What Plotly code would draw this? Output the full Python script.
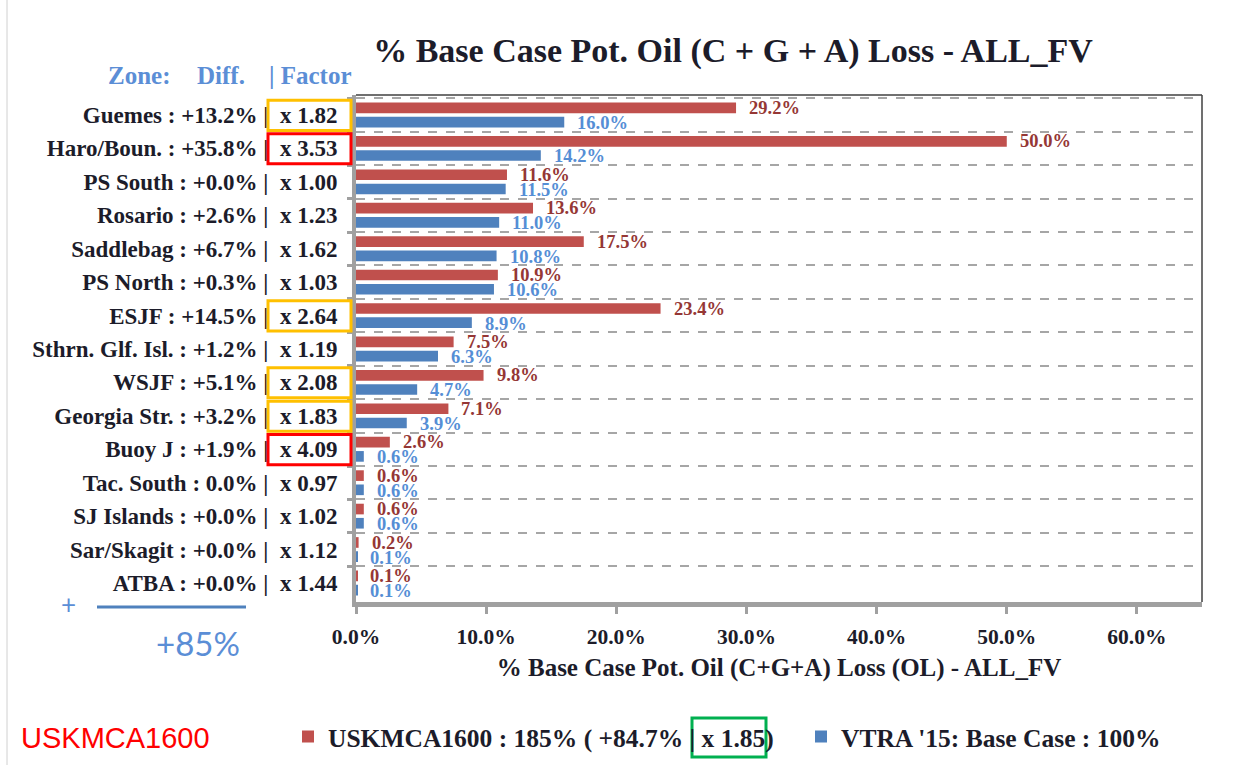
import plotly.graph_objects as go

# Zone data
zones = ["Guemes", "Haro/Boun.", "PS South", "Rosario", "Saddlebag", "PS North", "ESJF",
         "Sthrn. Glf. Isl.", "WSJF", "Georgia Str.", "Buoy J", "Tac. South", "SJ Islands",
         "Sar/Skagit", "ATBA"]
diffs = ["+13.2%", "+35.8%", "+0.0%", "+2.6%", "+6.7%", "+0.3%", "+14.5%", "+1.2%", "+5.1%",
         "+3.2%", "+1.9%", "0.0%", "+0.0%", "+0.0%", "+0.0%"]
factors = [1.82, 3.53, 1.00, 1.23, 1.62, 1.03, 2.64, 1.19, 2.08, 1.83, 4.09, 0.97, 1.02, 1.12, 1.44]
uskmca = [29.2, 50.0, 11.6, 13.6, 17.5, 10.9, 23.4, 7.5, 9.8, 7.1, 2.6, 0.6, 0.6, 0.2, 0.1]
vtra = [16.0, 14.2, 11.5, 11.0, 10.8, 10.6, 8.9, 6.3, 4.7, 3.9, 0.6, 0.6, 0.6, 0.1, 0.1]
x_ticks = [0, 10, 20, 30, 40, 50, 60]

name_case = "USKMCA1600 : 185% ( +84.7% | x 1.85)"
name_base = "VTRA '15: Base Case : 100%"

# Plot-area geometry (pixels) and helpers to convert to paper coordinates
FW, FH = 1249, 765
L, R, T, B = 356, 1202, 95, 602
W, H = R - L, B - T


def px_x(p):
    return (p - L) / W


def px_y(p):
    return (B - p) / H


SERIF = "Liberation Serif"
DARK = "#1c1c2a"
RED_BAR, BLUE_BAR = "#C0504D", "#4F81BD"
RED_TXT, BLUE_TXT = "#953735", "#558ED5"
HEAD_BLUE = "#5B8ED6"

cats = [f"{z} : {d} |\u00a0\u00a0x {f:.2f}" for z, d, f in zip(zones, diffs, factors)]

fig = go.Figure()
fig.add_trace(go.Bar(y=cats, x=uskmca, orientation="h", name=name_case,
                     marker=dict(color=RED_BAR, line=dict(width=0))))
fig.add_trace(go.Bar(y=cats, x=vtra, orientation="h", name=name_base,
                     marker=dict(color=BLUE_BAR, line=dict(width=0))))

annotations = []
# value labels next to the bars
for c, v in zip(cats, uskmca):
    annotations.append(dict(x=v, y=c, xref="x", yref="y", text=f"{v:.1f}%", showarrow=False,
                            xanchor="left", yanchor="middle", xshift=11, yshift=7,
                            font=dict(family=SERIF, size=18.5, color=RED_TXT, weight="bold")))
for c, v in zip(cats, vtra):
    annotations.append(dict(x=v, y=c, xref="x", yref="y", text=f"{v:.1f}%", showarrow=False,
                            xanchor="left", yanchor="middle", xshift=11, yshift=-8,
                            font=dict(family=SERIF, size=18.5, color=BLUE_TXT, weight="bold")))

# column header above the zone labels
for txt, xc in [("Zone:", 139), ("Diff.", 221), ("| Factor", 310)]:
    annotations.append(dict(x=px_x(xc), y=px_y(75), xref="paper", yref="paper", text=txt,
                            showarrow=False, xanchor="center", yanchor="middle",
                            font=dict(family=SERIF, size=25, color=HEAD_BLUE, weight="bold")))

# bottom-left summary
annotations.append(dict(x=px_x(68), y=px_y(604), xref="paper", yref="paper", text="+",
                        showarrow=False, xanchor="center", yanchor="middle",
                        font=dict(family="Lato", size=26, color=HEAD_BLUE)))
annotations.append(dict(x=px_x(198), y=px_y(643), xref="paper", yref="paper", text="+85%",
                        showarrow=False, xanchor="center", yanchor="middle",
                        font=dict(family="Lato", size=33, color=HEAD_BLUE)))
annotations.append(dict(x=px_x(116), y=px_y(738), xref="paper", yref="paper", text="USKMCA1600",
                        showarrow=False, xanchor="center", yanchor="middle",
                        font=dict(family="Liberation Sans", size=29, color="#FF0000")))

shapes = []
# highlight boxes around the larger factors
for i, f in enumerate(factors):
    if f >= 3:
        col = "#FF0000"
    elif f >= 1.8:
        col = "#FFC000"
    else:
        continue
    shapes.append(dict(type="rect", xref="paper", yref="y", x0=px_x(268), x1=px_x(351),
                       y0=i - 0.44, y1=i + 0.46, line=dict(color=col, width=3)))
# thin frame on top/right of plot area
shapes.append(dict(type="line", xref="paper", yref="paper", x0=0, x1=1, y0=1, y1=1,
                   line=dict(color="#404040", width=1.5)))
shapes.append(dict(type="line", xref="paper", yref="paper", x0=1, x1=1, y0=0, y1=1,
                   line=dict(color="#404040", width=1.5)))
# underline in the summary block
shapes.append(dict(type="line", xref="paper", yref="paper", x0=px_x(97), x1=px_x(246),
                   y0=px_y(607), y1=px_y(607), line=dict(color="#4F81BD", width=3)))
# left page edge
shapes.append(dict(type="line", xref="paper", yref="paper", x0=px_x(7), x1=px_x(7),
                   y0=px_y(0), y1=px_y(765), line=dict(color="#D0D0D0", width=1)))
# green box around the overall factor in the legend
shapes.append(dict(type="rect", xref="paper", yref="paper", x0=px_x(692), x1=px_x(766),
                   y0=px_y(757), y1=px_y(718), line=dict(color="#00B050", width=3)))

fig.update_layout(
    width=FW, height=FH,
    margin=dict(l=L, r=FW - R, t=T, b=FH - B, autoexpand=False),
    paper_bgcolor="white", plot_bgcolor="white",
    barmode="group", bargap=0.15, bargroupgap=0.25,
    title=dict(text="% Base Case Pot. Oil (C + G + A) Loss - ALL_FV",
               x=733 / FW, xanchor="center", y=1 - 50 / FH, yanchor="middle",
               font=dict(family=SERIF, size=34, color=DARK, weight="bold")),
    showlegend=True,
    legend=dict(orientation="h", x=px_x(288), y=px_y(737), xanchor="left", yanchor="middle",
                font=dict(family=SERIF, size=25.5, color=DARK, weight="bold"),
                bgcolor="rgba(0,0,0,0)", itemwidth=30,
                entrywidth=468, entrywidthmode="pixels"),
    annotations=annotations,
    shapes=shapes,
    font=dict(family=SERIF, color=DARK),
)

fig.update_xaxes(range=[0, 65], tickvals=x_ticks, ticktext=[f"{t:.1f}%" for t in x_ticks],
                 showgrid=False, zeroline=False, showline=True, linecolor="#A0A0A0", linewidth=5,
                 ticks="outside", ticklen=7, tickwidth=3, tickcolor="#A0A0A0",
                 ticklabelstandoff=4,
                 tickfont=dict(family=SERIF, size=21.5, color=DARK, weight="bold"),
                 title=dict(text="% Base Case Pot. Oil (C+G+A) Loss (OL) - ALL_FV", standoff=12,
                            font=dict(family=SERIF, size=25, color=DARK, weight="bold")))
fig.update_yaxes(autorange="reversed", type="category", tickson="boundaries",
                 showgrid=True, gridcolor="#A6A6A6", gridwidth=1.5, griddash="dash",
                 zeroline=False, showline=True, linecolor="#A0A0A0", linewidth=4,
                 ticks="outside", ticklen=5, tickwidth=3, tickcolor="#A0A0A0",
                 ticklabelstandoff=10,
                 tickfont=dict(family=SERIF, size=23, color=DARK, weight="bold"))

fig.write_html("out.html")
